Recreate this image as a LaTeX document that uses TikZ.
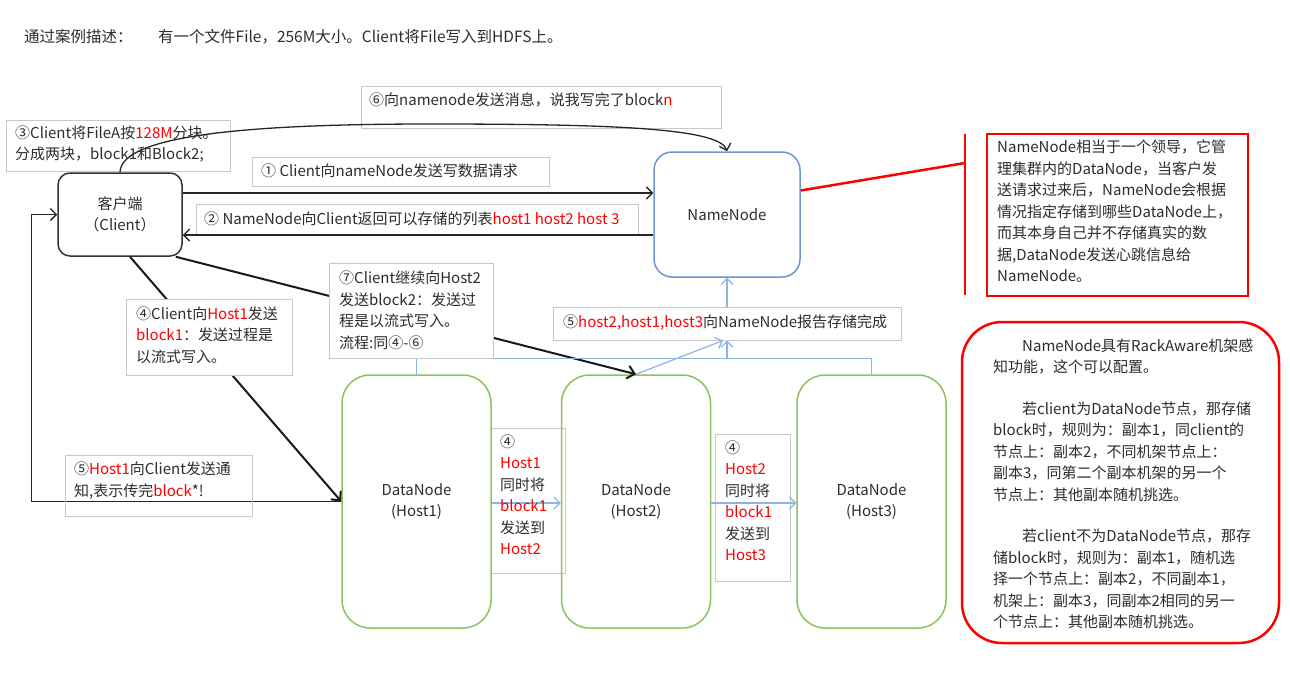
\documentclass[tikz,border=0pt]{standalone}
\usepackage{fontspec}
\setmainfont{Noto Sans CJK SC}
\usetikzlibrary{arrows.meta,calc}
\definecolor{txt}{RGB}{45,45,45}
\definecolor{gborder}{RGB}{200,200,200}
\definecolor{nnblue}{RGB}{110,150,215}
\definecolor{lblue}{RGB}{140,180,230}
\definecolor{dngreen}{RGB}{140,195,95}
\newcommand{\redt}[1]{\textcolor{red}{#1}}
\begin{document}
\begin{tikzpicture}[x=1pt,y=-1pt,
  font=\fontsize{15}{21.5}\selectfont, text=txt,
  gbox/.style={draw=gborder, line width=1pt, inner sep=0pt, fill=white},
  tbox/.style={draw=gborder, line width=1pt, inner sep=0pt},
  lbl/.style={inner sep=0pt, align=left, anchor=west},
  blk/.style={draw=black!85, line width=1.3pt},
  arr/.style={blk, -{Straight Barb[length=6pt,width=12pt]}},
  thk/.style={draw=black!90, line width=2pt, -{Straight Barb[length=7pt,width=13pt]}},
  barr/.style={draw=lblue, line width=1.2pt, -{Straight Barb[length=6pt,width=12pt]}},
  bln/.style={draw=lblue, line width=1.2pt},
  dnode/.style={draw=dngreen, line width=1.5pt, rounded corners=28pt, minimum width=149pt, minimum height=253pt, inner sep=0pt, align=center}
]
\useasboundingbox (0,0) rectangle (1290,675);
\fill[white] (0,0) rectangle (1290,675);

% title
\node[lbl, font=\fontsize{15.5}{20}\selectfont] (t0) at (24,37) {通过案例描述：};
\node[lbl, font=\fontsize{15.5}{20}\selectfont] (t1) at (158,37) {有一个文件File，256M大小。Client将File写入到HDFS上。};

% annotation boxes (drawn first)
\node[tbox, minimum width=224pt, minimum height=51pt] (b3) at (118,145.5) {};
\node[tbox, minimum width=360pt, minimum height=42pt] (b6) at (541,107) {};
\node[tbox, minimum width=297pt, minimum height=29pt] (b1) at (400.5,171.5) {};
\node[tbox, minimum width=442pt, minimum height=31pt] (b2) at (417,219.5) {};
\node[tbox, minimum width=74pt, minimum height=145pt] (b4a) at (528,500.5) {};
\node[tbox, minimum width=75pt, minimum height=147pt] (b4b) at (752.5,507.5) {};

% main nodes
\node[draw=black!80, line width=1.5pt, rounded corners=12pt, minimum width=124pt, minimum height=83pt, inner sep=0pt, align=center] (cl) at (120,214.5) {客户端\\（Client）};
\node[draw=nnblue, line width=1.5pt, rounded corners=18pt, minimum width=146pt, minimum height=125pt, inner sep=0pt] (nn) at (727,214.5) {NameNode};
\node[dnode] (h1) at (416.5,501.5) {DataNode\\(Host1)};
\node[dnode] (h2) at (636,501.5) {DataNode\\(Host2)};
\node[dnode] (h3) at (871.5,501.5) {DataNode\\(Host3)};

% connectors
\draw[arr] (cl.north) .. controls (121,135) and (250,124) .. (430,124) .. controls (610,124) and (720,128) .. (nn.north);
\draw[arr] ([yshift=21.5pt]cl.east) -- ([yshift=21.5pt]nn.west);
\draw[arr] ([yshift=-20.5pt]nn.west) -- ([yshift=-20.5pt]cl.east);
\draw[thk] ([xshift=10pt]cl.south) -- (h1.west);
\draw[thk] ([xshift=-7pt]cl.south east) -- (h2.north);
\draw[arr] (h1.west) -- ++(-310,0) |- (cl.west);

% blue
\draw[bln] (h1.north) -- ++(0,-16) -| (h3.north);
\coordinate (bus) at (727,359);

% boxes on top of lines
\node[gbox, minimum width=166pt, minimum height=76pt] (b4c) at (209,337) {};
\node[gbox, minimum width=164pt, minimum height=95pt] (b7) at (411,310.5) {};
\node[gbox, minimum width=348pt, minimum height=33pt] (b5) at (727,323.5) {};
\node[tbox, minimum width=187pt, minimum height=61pt] (b5h) at (158.5,485.5) {};

\draw[barr] (bus) -- (b5.south);
\draw[barr] (h2.north) -- ([xshift=-4pt]b5.south);
\draw[barr] (b5.north) -- (nn.south);
\draw[barr] ([yshift=-1.5pt]h1.east) -- ([yshift=-1.5pt]h2.west);
\draw[barr] ([yshift=-1.5pt]h2.east) -- ([yshift=-1.5pt]h3.west);

% texts
\node[lbl] (t3) at (15,144) {③Client将FileA按\redt{128M}分块。\\分成两块，block1和Block2;};
\node[lbl] (t6) at (369,100) {⑥向namenode发送消息，说我写完了block\redt{n}};
\node[lbl] (t1b) at (261,171) {① Client向nameNode发送写数据请求};
\node[lbl] (t2b) at (204,219) {② NameNode向Client返回可以存储的列表\redt{host1 host2 host 3}};
\node[lbl] (t4c) at (136,335) {④Client向\redt{Host1}发送\\\redt{block1}：发送过程是\\以流式写入。};
\node[lbl] (t7) at (339,310.5) {⑦Client继续向Host2\\发送block2：发送过\\程是以流式写入。\\流程:同④-⑥};
\node[lbl] (t5) at (563,323) {⑤\redt{host2,host1,host3}向NameNode报告存储完成};
\node[lbl] (t5h) at (74,480.5) {⑤\redt{Host1}向Client发送通\\知,表示传完\redt{block}*!};
\node[lbl] (t4a) at (500,494.5) {④\\\redt{Host1}\\同时将\\\redt{block1}\\发送到\\\redt{Host2}};
\node[lbl] (t4b) at (725,500.5) {④\\\redt{Host2}\\同时将\\\redt{block1}\\发送到\\\redt{Host3}};

% red notes
\coordinate (rv1) at (965,134);
\coordinate (rv2) at (965,295);
\coordinate (rvm) at (965,163);
\draw[red, line width=2pt] (rv1) -- (rv2);
\draw[red, line width=2.5pt] ([yshift=24pt]nn.east) -- (rvm);
\node[draw=red, line width=2.5pt, minimum width=261pt, minimum height=162pt, inner sep=0pt] (rb) at (1117.5,215) {};
\node[lbl] (trb) at (997,211.5) {NameNode相当于一个领导，它管\\理集群内的DataNode，当客户发\\送请求过来后，NameNode会根据\\情况指定存储到哪些DataNode上，\\而其本身自己并不存储真实的数\\据,DataNode发送心跳信息给\\NameNode。};
\node[draw=red, line width=2.5pt, rounded corners=40pt, minimum width=317pt, minimum height=321pt, inner sep=0pt] (rr) at (1120.5,482.5) {};
\node[lbl] (trr) at (993,484) {\hspace*{29pt}NameNode具有RackAware机架感\\知功能，这个可以配置。\\[20pt]\hspace*{29pt}若client为DataNode节点，那存储\\block时，规则为：副本1，同client的\\节点上：副本2，不同机架节点上：\\副本3，同第二个副本机架的另一个\\节点上：其他副本随机挑选。\\[20pt]\hspace*{29pt}若client不为DataNode节点，那存\\储block时，规则为：副本1，随机选\\择一个节点上：副本2，不同副本1，\\机架上：副本3，同副本2相同的另一\\个节点上：其他副本随机挑选。};
\end{tikzpicture}
\end{document}
